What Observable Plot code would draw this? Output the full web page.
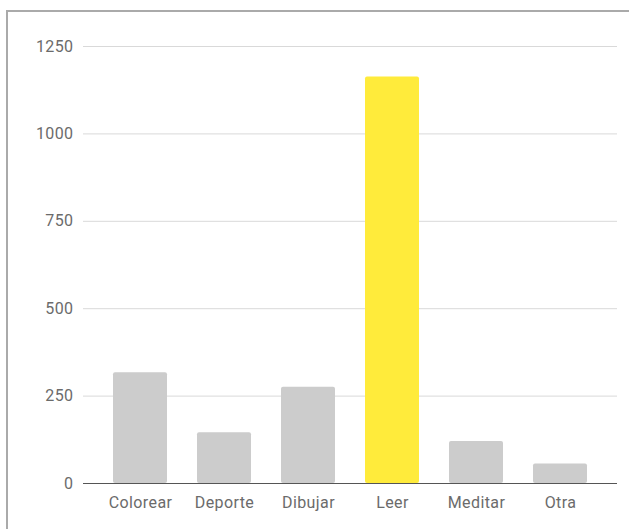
<!DOCTYPE html>
<html>
<head>
<meta charset="utf-8">
<script src="https://cdn.jsdelivr.net/npm/d3@7"></script>
<script src="https://cdn.jsdelivr.net/npm/@observablehq/plot@0.6"></script>
<style>
  html, body { margin: 0; padding: 0; background: #fff; overflow: hidden; width: 629px; height: 529px; }
  #frame { position: absolute; left: 6px; top: 10px; width: 700px; height: 600px;
           border-left: 2px solid #aaa; border-top: 2px solid #aaa; box-sizing: border-box; }
  #chart { position: absolute; left: 0; top: 0; }
  #chart svg text { letter-spacing: 0.4px; }
</style>
</head>
<body>
<div id="frame"></div>
<div id="chart"></div>
<script>
const categories = ["Colorear", "Deporte", "Dibujar", "Leer", "Meditar", "Otra"];
const values = [317, 145, 275, 1163, 120, 56];
const highlight = "Leer";
const yTicks = [0, 250, 500, 750, 1000, 1250];

const data = categories.map((c, i) => ({category: c, value: values[i]}));

const chart = Plot.plot({
  width: 629,
  height: 529,
  marginLeft: 83,
  marginRight: 12,
  marginTop: 46,
  marginBottom: 46,
  style: {fontFamily: "Roboto, sans-serif", fontSize: "16px", color: "#6b6b6b", background: "transparent"},
  x: {domain: categories, paddingInner: 0.36, paddingOuter: 0.35, label: null},
  y: {domain: [0, 1250], label: null},
  marks: [
    Plot.gridY(yTicks, {stroke: "#d9d9d9", strokeOpacity: 1}),
    Plot.axisY(yTicks, {tickSize: 0, tickPadding: 10, label: null, fill: "#6b6b6b", tickFormat: d3.format("d")}),
    Plot.axisX({tickSize: 0, tickPadding: 13, label: null, fill: "#6b6b6b"}),
    Plot.barY(data, {x: "category", y: "value", fill: d => d.category === highlight ? "#ffeb3b" : "#cccccc", rx: 2}),
    Plot.ruleY([0], {stroke: "#555"})
  ]
});
document.getElementById("chart").appendChild(chart);
</script>
</body>
</html>
